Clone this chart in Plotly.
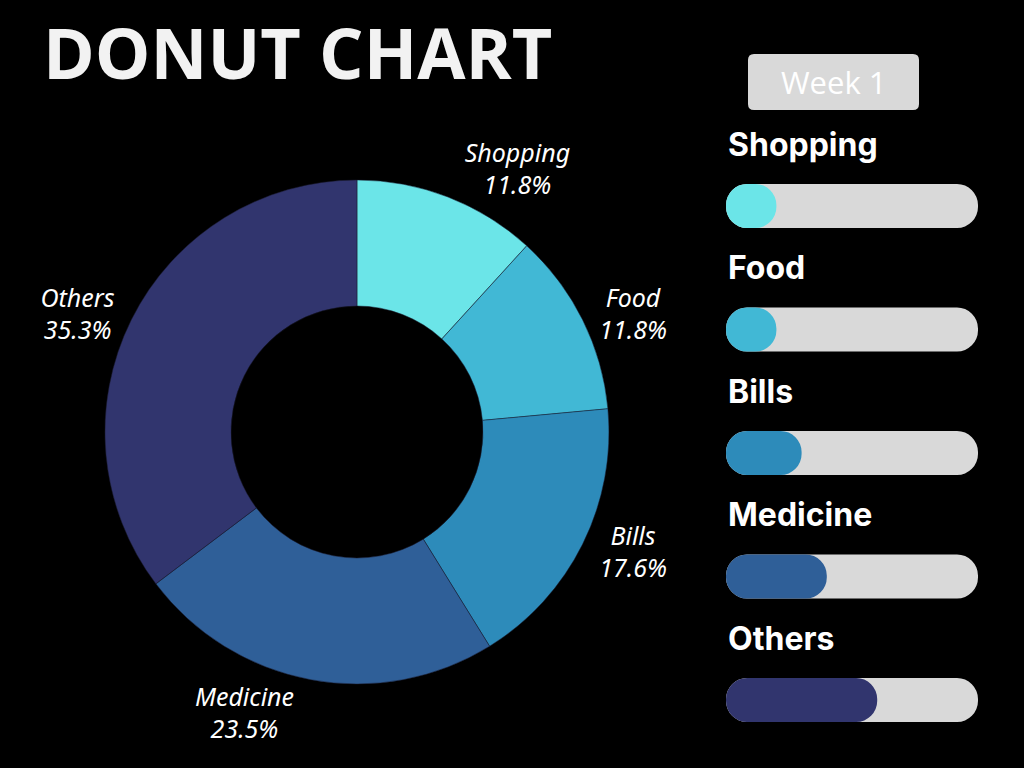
import plotly.graph_objects as go

categories = ['Shopping', 'Food', 'Bills', 'Medicine', 'Others']
amounts = [2, 2, 3, 4, 6]
bar_max = 10
colors = ['#6BE5E8', '#41B8D5', '#2D8BBA', '#2F5F98', '#31356E']
week_label = 'Week 1'
title_text = 'DONUT CHART'

# rows for the progress bars, Shopping on top
rows = list(range(len(categories) - 1, -1, -1))

fig = go.Figure()

fig.add_trace(go.Pie(
    labels=categories, values=amounts, hole=0.5, sort=False,
    direction='clockwise', rotation=0,
    marker=dict(colors=colors, line=dict(color='#1a1a2e', width=0.5)),
    textposition='outside', texttemplate='%{label}<br>%{percent:.1%}',
    textfont=dict(family='Noto Sans', size=25, color='white', style='italic'),
    domain=dict(x=[0.1025, 0.5947], y=[0.109, 0.766]),
    showlegend=False, hoverinfo='label+percent',
))

# progress pills: grey track, coloured fill on top
# (an explicit base makes plotly round both ends of the bar)
bar_w = 0.356
fig.add_trace(go.Bar(y=rows, x=[bar_max] * len(rows), base=[0] * len(rows), orientation='h', width=bar_w,
                     marker=dict(color='#D9D9D9', cornerradius='50%', line=dict(width=0)),
                     xaxis='x2', yaxis='y2', showlegend=False, hoverinfo='skip'))
fig.add_trace(go.Bar(y=rows, x=amounts, base=[0] * len(rows), orientation='h', width=bar_w,
                     marker=dict(color=colors, cornerradius='50%', line=dict(width=0)),
                     xaxis='x2', yaxis='y2', showlegend=False,
                     customdata=categories, hovertemplate='%{customdata}: %{x}<extra></extra>'))

# category names above each bar
for cat, r in zip(categories, rows):
    fig.add_annotation(x=0, y=r + 0.5, xref='x2', yref='y2', text=cat, showarrow=False,
                       xanchor='left', yanchor='middle',
                       font=dict(family='Inter', size=32, color='white', weight='bold'))

fig.add_annotation(x=41 / 1024, y=1 - 52 / 768, xref='paper', yref='paper', text=title_text,
                   showarrow=False, xanchor='left', yanchor='middle',
                   font=dict(family='Open Sans', size=70, color='#F2F2F2', weight='bold'))

# Week 1 box with small rounded corners
x0, x1 = 748 / 1024, 919 / 1024
y0, y1 = 1 - 110 / 768, 1 - 54 / 768
rx, ry = 6 / 1024, 6 / 768
path = (f'M {x0 + rx},{y0} L {x1 - rx},{y0} Q {x1},{y0} {x1},{y0 + ry} '
        f'L {x1},{y1 - ry} Q {x1},{y1} {x1 - rx},{y1} L {x0 + rx},{y1} '
        f'Q {x0},{y1} {x0},{y1 - ry} L {x0},{y0 + ry} Q {x0},{y0} {x0 + rx},{y0} Z')
fig.add_shape(type='path', path=path, xref='paper', yref='paper',
              fillcolor='#D9D9D9', line=dict(width=0), layer='below')
fig.add_annotation(x=(x0 + x1) / 2, y=(y0 + y1) / 2, xref='paper', yref='paper', text=week_label,
                   showarrow=False, xanchor='center', yanchor='middle',
                   font=dict(family='Open Sans', size=31, color='white'))

fig.update_layout(
    width=1024, height=768,
    paper_bgcolor='black', plot_bgcolor='black',
    margin=dict(l=0, r=0, t=0, b=0),
    barmode='overlay',
    xaxis2=dict(domain=[726 / 1024, 978 / 1024], range=[0, bar_max], visible=False, fixedrange=True),
    yaxis2=dict(domain=[6.25 / 768, 636.1 / 768], range=[-0.5, 4.6], visible=False, fixedrange=True,
                anchor='x2'),
)

fig.write_html('out.html', config={'displayModeBar': False},
               post_script="document.body.style.margin='0';document.body.style.background='black';")
